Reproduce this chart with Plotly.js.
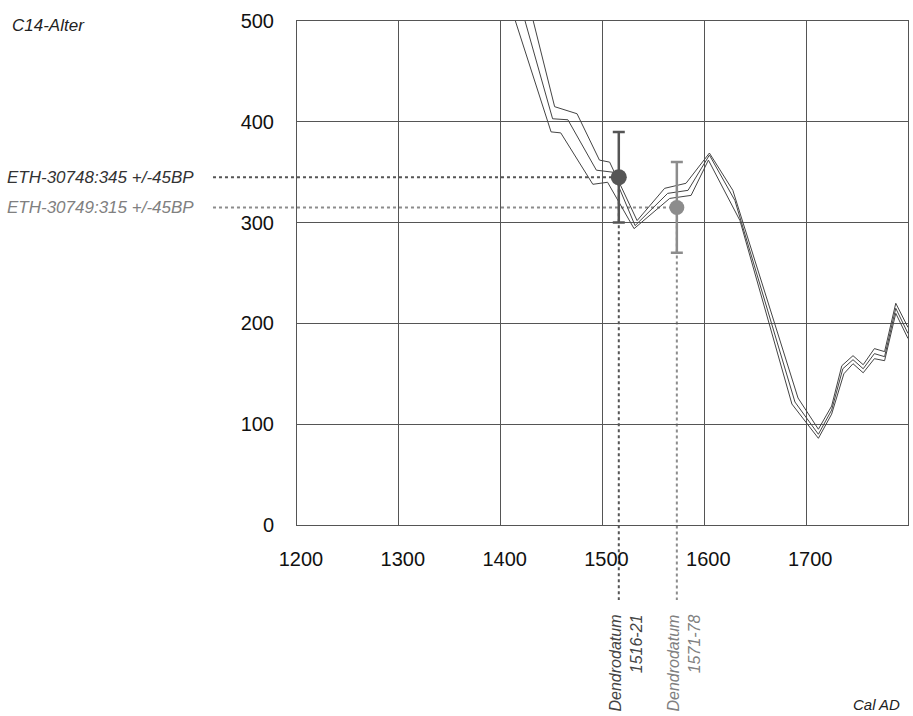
<!DOCTYPE html>
<html>
<head>
<meta charset="utf-8">
<script src="https://cdn.plot.ly/plotly-3.0.1.min.js"></script>
<style>html,body{margin:0;padding:0;background:#fff;}</style>
</head>
<body>
<div id="chart" style="width:913px;height:716px;"></div>
<script>
// Calibration curve (C14 age vs. calendar year) – upper / middle / lower band
const upperYears = [1410, 1432, 1453, 1475, 1497, 1507, 1534, 1561, 1582, 1605, 1628, 1692, 1712, 1725, 1735, 1746, 1756, 1767, 1777, 1788, 1800];
const upperAge   = [595, 500, 415, 408, 362, 360, 302, 334, 339, 369, 332, 126, 95, 118, 158, 168, 159, 175, 172, 220, 196];
const midYears   = [1410, 1424, 1451, 1466, 1494, 1510, 1532, 1564, 1584, 1605, 1630, 1689, 1712, 1725, 1736, 1746, 1756, 1767, 1777, 1788, 1800];
const midAge     = [550, 500, 403, 402, 352, 350, 297, 329, 332, 367, 322, 122, 90, 114, 155, 164, 155, 170, 167, 215, 190];
const lowerYears = [1410, 1414.5, 1449.5, 1459, 1490.5, 1505, 1531, 1566, 1587, 1604, 1635, 1686, 1712, 1725, 1737, 1746, 1756, 1767, 1777, 1788, 1800];
const lowerAge   = [514, 500, 390, 389, 338, 340, 294, 324, 327, 362, 302, 120, 86, 110, 150, 160, 151, 165, 163, 210, 185];

// Samples
const sampleNames  = ["ETH-30748", "ETH-30749"];
const sampleYears  = [1516, 1573];
const sampleAge    = [345, 315];
const sampleErr    = [45, 45];
const sampleLabels = ["ETH-30748:345 +/-45BP", "ETH-30749:315 +/-45BP"];
const dendroLabels = ["Dendrodatum<br>1516-21", "Dendrodatum<br>1571-78"];
const sampleColors = ["#555555", "#8c8c8c"];

// Axis ticks
const xTicks = [1200, 1300, 1400, 1500, 1600, 1700];
const yTicks = [0, 100, 200, 300, 400, 500];
const xRange = [1200, 1800];
const yRange = [0, 500];

const FONT = "Liberation Sans, Arial, Helvetica, sans-serif";
const curveStyle = {color: "#444", width: 1};

const traces = [
  {x: upperYears, y: upperAge, mode: "lines", line: curveStyle, hoverinfo: "skip"},
  {x: midYears, y: midAge, mode: "lines", line: curveStyle, hoverinfo: "skip"},
  {x: lowerYears, y: lowerAge, mode: "lines", line: curveStyle, hoverinfo: "skip"}
];
sampleYears.forEach((yr, i) => {
  traces.push({
    x: [yr], y: [sampleAge[i]], mode: "markers", name: sampleNames[i],
    marker: {size: i === 0 ? 16 : 15, color: sampleColors[i]},
    error_y: {type: "data", array: [sampleErr[i]], visible: true, color: sampleColors[i], thickness: 2.5, width: 6},
    cliponaxis: false
  });
});

const px = v => (v - xRange[0]) / (xRange[1] - xRange[0]);
const py = v => (v - yRange[0]) / (yRange[1] - yRange[0]);

const shapes = [];
const annotations = [];
sampleYears.forEach((yr, i) => {
  shapes.push({type: "line", xref: "paper", yref: "paper", x0: -0.1375, x1: px(yr), y0: py(sampleAge[i]), y1: py(sampleAge[i]),
    line: {color: sampleColors[i], width: 2, dash: "dot"}, layer: "below"});
  shapes.push({type: "line", xref: "paper", yref: "paper", x0: px(yr), x1: px(yr), y0: py(sampleAge[i]), y1: -0.149,
    line: {color: sampleColors[i], width: 2, dash: "dot"}, layer: "below"});
  annotations.push({xref: "paper", yref: "y", x: -0.1653, y: sampleAge[i], xanchor: "right", yanchor: "middle",
    text: "<i>" + sampleLabels[i] + "</i>", showarrow: false, font: {family: FONT, size: 17, color: i === 0 ? "#333" : "#808080"}});
  annotations.push({xref: "x", yref: "paper", x: yr, y: -0.173, xanchor: "center", yanchor: "top", xshift: 7,
    text: "<i>" + dendroLabels[i] + "</i>", textangle: -90, align: "right", showarrow: false,
    font: {family: FONT, size: 16, color: i === 0 ? "#444" : "#808080"}});
});
annotations.push({xref: "paper", yref: "paper", x: -0.469, y: 0.992, xanchor: "left", yanchor: "middle",
  text: "<i>C14-Alter</i>", showarrow: false, font: {family: FONT, size: 17, color: "#222"}});
annotations.push({xref: "paper", yref: "paper", x: 0.990, y: -0.357, xanchor: "right", yanchor: "middle",
  text: "<i>Cal AD</i>", showarrow: false, font: {family: FONT, size: 15, color: "#222"}});

const layout = {
  width: 913, height: 716,
  margin: {l: 297, r: 5, t: 21, b: 191},
  paper_bgcolor: "#fff", plot_bgcolor: "#fff",
  showlegend: false,
  font: {family: FONT, color: "#111"},
  xaxis: {range: xRange, tickvals: xTicks, ticktext: xTicks.map(String), showgrid: true, gridcolor: "#555", gridwidth: 1,
    zeroline: false, showline: true, mirror: true, linecolor: "#555", linewidth: 1, ticks: "",
    tickfont: {family: FONT, size: 20, color: "#111"}, ticklabelstandoff: 16, ticklabelshift: 4},
  yaxis: {range: yRange, tickvals: yTicks, ticktext: yTicks.map(String), showgrid: true, gridcolor: "#555", gridwidth: 1,
    zeroline: false, showline: true, mirror: true, linecolor: "#555", linewidth: 1, ticks: "",
    tickfont: {family: FONT, size: 20, color: "#111"}, ticklabelstandoff: 18},
  shapes: shapes,
  annotations: annotations
};

Plotly.newPlot("chart", traces, layout, {displayModeBar: false, staticPlot: true});
</script>
</body>
</html>
